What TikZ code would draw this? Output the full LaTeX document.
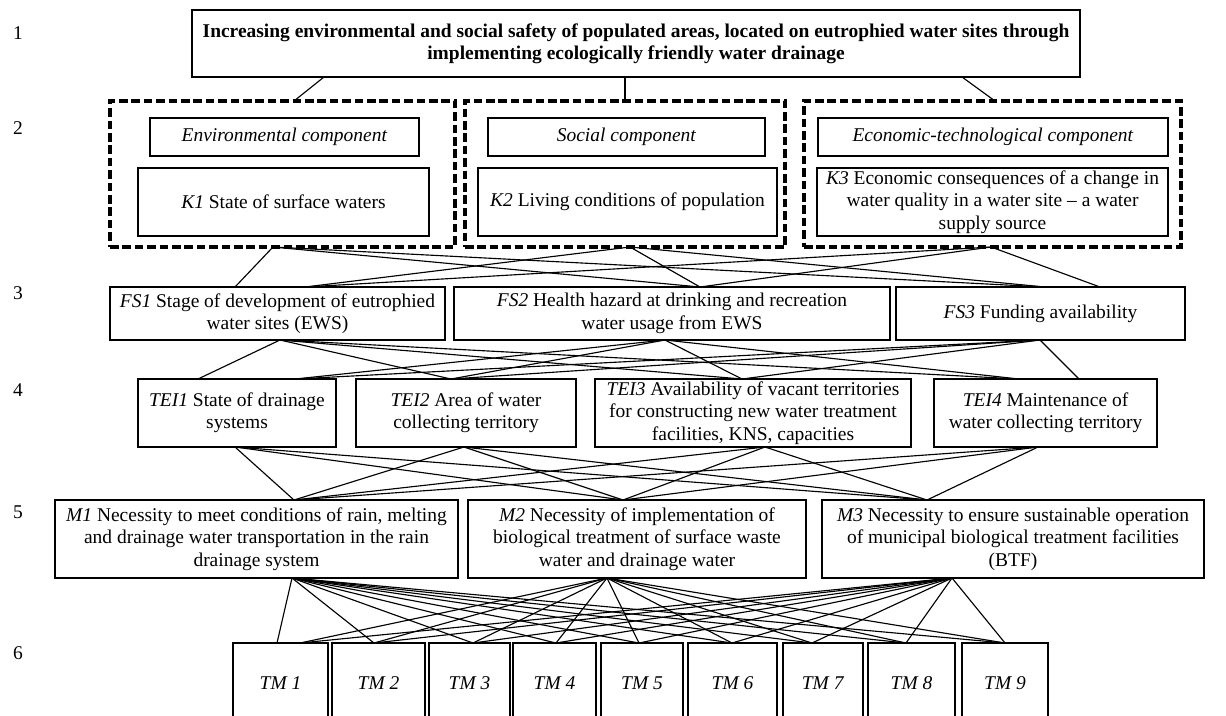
\documentclass[tikz,border=0pt]{standalone}
\usepackage{fontspec}
\setmainfont{Liberation Serif}
\tikzset{
  box/.style={draw, line width=1.9pt, inner sep=0pt, align=center},
  dbox/.style={draw, line width=2.4pt, dash pattern=on 6.5pt off 2.8pt, inner sep=0pt},
  link/.style={line width=0.85pt},
  lvl/.style={inner sep=0pt}
}
\newcommand{\bx}[7][]{%
 \pgfmathsetmacro\bxw{(#5-#3)*0.75}%
 \pgfmathsetmacro\bxh{(#6-#4)*0.75}%
 \pgfmathsetmacro\bxcx{(#3+#5)/2}%
 \pgfmathsetmacro\bxcy{(#4+#6)/2}%
 \node[box,#1,minimum width=\bxw pt,minimum height=\bxh pt] (#2) at (\bxcx,\bxcy) {#7};}
\newcommand{\lk}[2]{\draw[link] (#1) -- (#2);}
\begin{document}
\begin{tikzpicture}[x=0.75pt,y=-0.75pt,font=\fontsize{14.6}{16.8}\selectfont]
\path[use as bounding box] (0,0) rectangle (1226,715);
\fill[white] (0,0) rectangle (1226,715);
\clip (0,0) rectangle (1226,715);
% level labels
\node[lvl] (L1) at (18,33) {1};
\node[lvl] (L2) at (18,128) {2};
\node[lvl] (L3) at (18,293) {3};
\node[lvl] (L4) at (18,390) {4};
\node[lvl] (L5) at (18,512) {5};
\node[lvl] (L6) at (18,653) {6};
% level 1
\bx[font=\fontsize{14.6}{16.8}\selectfont\bfseries]{top}{192}{10}{1080}{77}{Increasing environmental and social safety of populated areas, located on eutrophied water sites through\\implementing ecologically friendly water drainage}
% level 2
\bx[dbox]{A}{110}{101}{455}{247}{}
\bx[dbox]{B}{465}{101}{785}{247}{}
\bx[dbox]{C}{804}{101}{1181}{247}{}
\bx{Env}{150}{118}{419}{156}{\textit{Environmental component}}
\bx{Soc}{488}{118}{765}{156}{\textit{Social component}}
\bx{Eco}{818}{118}{1168}{156}{\textit{Economic-technological component}}
\bx{K1}{138}{168}{429}{236}{\textit{K1} State of surface waters}
\bx{K2}{478}{168}{777}{236}{\textit{K2} Living conditions of population}
\bx{K3}{817}{168}{1168}{236}{\textit{K3} Economic consequences of a change in\\water quality in a water site -- a water\\supply source}
% level 3
\bx{FS1}{110}{287}{445}{340}{\textit{FS1} Stage of development of eutrophied\\water sites (EWS)}
\bx{FS2}{454}{287}{890}{340}{\textit{FS2} Health hazard at drinking and recreation\\water usage from EWS}
\bx{FS3}{896}{287}{1185}{340}{\textit{FS3} Funding availability}
% level 4
\bx{TEI1}{138}{379}{336}{447}{\textit{TEI1} State of drainage\\systems}
\bx{TEI2}{356}{379}{576}{447}{\textit{TEI2} Area of water\\collecting territory}
\bx{TEI3}{595}{379}{911}{447}{\textit{TEI3} Availability of vacant territories\\for constructing new water treatment\\facilities, KNS, capacities}
\bx{TEI4}{934}{379}{1157}{447}{\textit{TEI4} Maintenance of\\water collecting territory}
% level 5
\bx{M1}{55}{500}{458}{578}{\textit{M1} Necessity to meet conditions of rain, melting\\and drainage water transportation in the rain\\drainage system}
\bx{M2}{468}{500}{806}{578}{\textit{M2} Necessity of implementation of\\biological treatment of surface waste\\water and drainage water}
\bx{M3}{822}{500}{1204}{578}{\textit{M3} Necessity to ensure sustainable operation\\of municipal biological treatment facilities\\(BTF)}
% level 6
\bx{TM1}{233}{643}{328}{723}{\textit{TM 1}}
\bx{TM2}{332}{643}{425}{723}{\textit{TM 2}}
\bx{TM3}{429}{643}{510}{723}{\textit{TM 3}}
\bx{TM4}{513}{643}{596}{723}{\textit{TM 4}}
\bx{TM5}{601}{643}{683}{723}{\textit{TM 5}}
\bx{TM6}{688}{643}{777}{723}{\textit{TM 6}}
\bx{TM7}{783}{643}{863}{723}{\textit{TM 7}}
\bx{TM8}{868}{643}{955}{723}{\textit{TM 8}}
\bx{TM9}{962}{643}{1048}{723}{\textit{TM 9}}
% anchors: top -> dashed
\coordinate (ta) at (324,77);  \coordinate (At) at (294,101);
\coordinate (tb) at (625,77);  \coordinate (Bt) at (625,101);
\coordinate (tc) at (962,77);  \coordinate (Ct) at (995,101);
\lk{ta}{At}\lk{tb}{Bt}\lk{tc}{Ct}
% dashed -> FS
\coordinate (Ab) at (273,247); \coordinate (Bb) at (630,247); \coordinate (Cb) at (991,247);
\coordinate (f1a) at (235,287); \coordinate (f1b) at (305,287);
\coordinate (f2) at (700,287);
\coordinate (f3a) at (1045,287); \coordinate (f3b) at (1100,287);
\lk{Ab}{f1a}\lk{Ab}{f2}\lk{Ab}{f3a}
\lk{Bb}{f1b}\lk{Bb}{f2}\lk{Bb}{f3a}
\lk{Cb}{f1b}\lk{Cb}{f2}\lk{Cb}{f3b}
% FS -> TEI
\coordinate (fb1) at (280,340); \coordinate (fb2) at (665,340); \coordinate (fb3) at (1040,340);
\coordinate (e1a) at (198,379); \coordinate (e1b) at (295,379);
\coordinate (e2) at (451,379); \coordinate (e3) at (742,379);
\coordinate (e4a) at (1019,379); \coordinate (e4b) at (1079,379);
\lk{fb1}{e1a}\lk{fb1}{e2}\lk{fb1}{e3}\lk{fb1}{e4a}
\lk{fb2}{e1b}\lk{fb2}{e2}\lk{fb2}{e3}\lk{fb2}{e4a}
\lk{fb3}{e1b}\lk{fb3}{e2}\lk{fb3}{e3}\lk{fb3}{e4b}
% TEI -> M
\coordinate (eb1) at (235,447); \coordinate (eb2) at (464,447);
\coordinate (eb3) at (765,447); \coordinate (eb4) at (1038,447);
\coordinate (m1) at (294,500); \coordinate (m2) at (623,500); \coordinate (m3) at (927,500);
\foreach \u in {eb1,eb2,eb3,eb4}{\foreach \v in {m1,m2,m3}{\lk{\u}{\v}}}
% M -> TM
\coordinate (mb1) at (292,578); \coordinate (mb2) at (607,578); \coordinate (mb3) at (952,578);
\coordinate (t1a) at (277,643); \coordinate (t1b) at (300,643);
\coordinate (t2) at (374,643); \coordinate (t3) at (473,643); \coordinate (t4) at (556,643);
\coordinate (t5) at (639,643); \coordinate (t6) at (732,643); \coordinate (t7) at (812,643);
\coordinate (t8) at (906,643); \coordinate (t9) at (1005,643);
\lk{mb1}{t1a}
\foreach \u in {mb2,mb3}{\lk{\u}{t1b}}
\foreach \u in {mb1,mb2,mb3}{\foreach \v in {t2,t3,t4,t5,t6,t7,t8,t9}{\lk{\u}{\v}}}
\end{tikzpicture}
\end{document}
